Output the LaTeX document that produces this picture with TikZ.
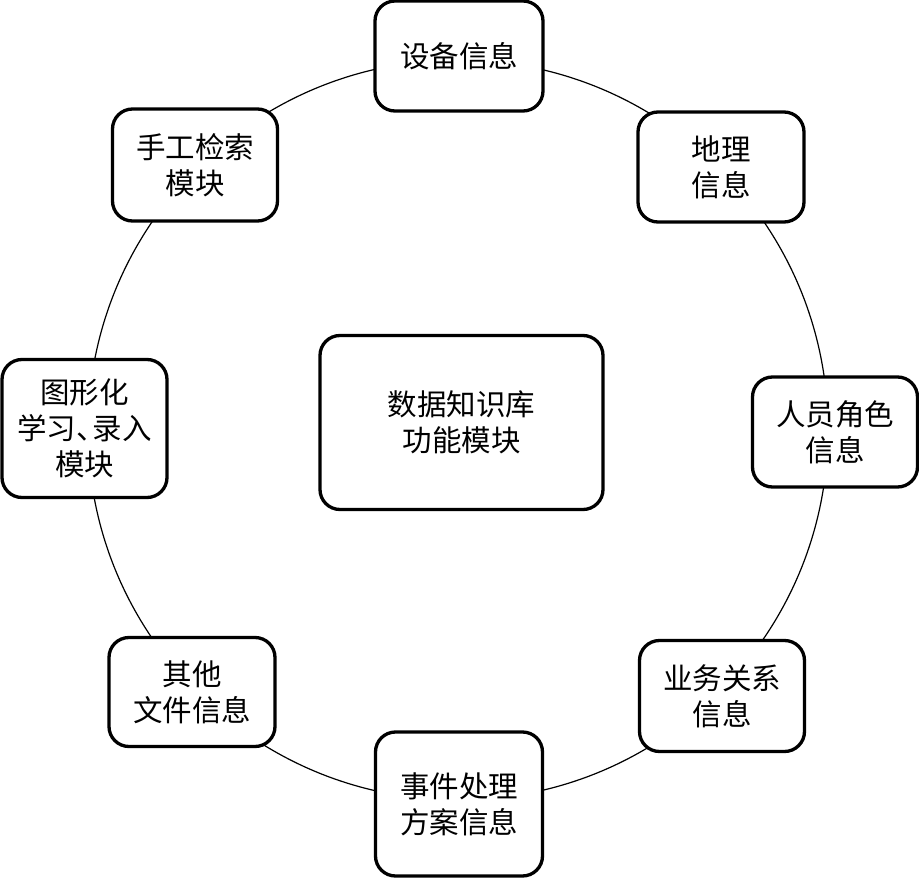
\documentclass[tikz,border=0pt]{standalone}
\usepackage{fontspec}
\newfontfamily\cjk{Noto Sans CJK SC}
\begin{document}
\begin{tikzpicture}[x=1pt,y=-1pt,
  box/.style={draw=black, line width=3.3pt, rounded corners=20pt, fill=white,
    align=center, inner sep=0pt, font=\cjk\fontsize{29.5}{36}\selectfont},
  ring/.style={draw=black, line width=1.2pt}]
\useasboundingbox (0,0) rectangle (919,878);
\fill[white] (0,0) rectangle (919,878);
\draw[ring] (458,430) circle (370pt);
\node[box, minimum width=168pt, minimum height=110pt] (sb) at (459,56) {设备信息};
\node[box, minimum width=166pt, minimum height=110pt] (dl) at (721,167) {地理\\信息};
\node[box, minimum width=165pt, minimum height=110pt] (ry) at (835,432) {人员角色\\信息};
\node[box, minimum width=165pt, minimum height=111pt] (yw) at (722,696) {业务关系\\信息};
\node[box, minimum width=167pt, minimum height=144pt] (sj) at (459,804) {事件处理\\方案信息};
\node[box, minimum width=166pt, minimum height=109pt] (qt) at (192,692) {其他\\文件信息};
\node[box, minimum width=165pt, minimum height=138pt] (tx) at (84.5,428.5) {图形化\\学习、\kern-0.45em录入\\模块};
\node[box, minimum width=165pt, minimum height=112pt] (sg) at (195,165) {手工检索\\模块};
\node[box, minimum width=283pt, minimum height=174pt] (zs) at (461.5,422.5) {数据知识库\\功能模块};
\end{tikzpicture}
\end{document}
